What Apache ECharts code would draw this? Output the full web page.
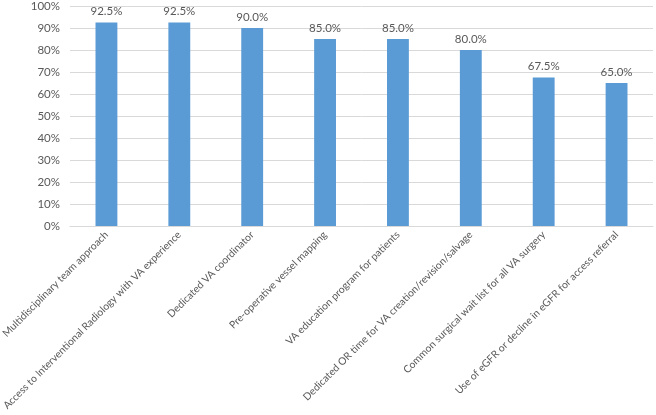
<!DOCTYPE html>
<html>
<head>
<meta charset="utf-8">
<script src="https://cdn.jsdelivr.net/npm/echarts@6/dist/echarts.min.js"></script>
<style>html,body{margin:0;padding:0;background:#fff;}#c{width:656px;height:415px;}</style>
</head>
<body>
<div id="c"></div>
<script>
const categories = [
  "Multidisciplinary team approach",
  "Access to Interventional Radiology with VA experience",
  "Dedicated VA coordinator",
  "Pre-operative vessel mapping",
  "VA education program for patients",
  "Dedicated OR time for VA creation/revision/salvage",
  "Common surgical wait list for all VA surgery",
  "Use of eGFR or decline in eGFR for access referral"
];
const values = [92.5, 92.5, 90.0, 85.0, 85.0, 80.0, 67.5, 65.0];

const chart = echarts.init(document.getElementById('c'));
chart.setOption({
  animation: false,
  grid: { left: 70, right: 3, top: 6, bottom: 189, containLabel: false, outerBoundsMode: 'none' },
  xAxis: {
    type: 'category',
    data: categories,
    axisLine: { lineStyle: { color: '#d9d9d9' } },
    axisTick: { show: false },
    axisLabel: { rotate: 45, interval: 0, color: '#595959', fontSize: 10.3, fontFamily: 'Lato', margin: 7 }
  },
  yAxis: {
    type: 'value',
    min: 0, max: 100, interval: 10,
    axisLine: { show: false },
    axisTick: { show: false },
    splitLine: { lineStyle: { color: '#d9d9d9' } },
    axisLabel: { formatter: v => v + '%', color: '#595959', fontSize: 11.5, fontFamily: 'Lato', margin: 10 }
  },
  series: [{
    type: 'bar',
    data: values,
    barWidth: '30%',
    itemStyle: { color: '#5b9bd5' },
    label: { show: true, position: 'top', distance: 5, formatter: p => p.value.toFixed(1) + '%', color: '#595959', fontSize: 11.5, fontFamily: 'Lato' }
  }]
});
</script>
</body>
</html>
